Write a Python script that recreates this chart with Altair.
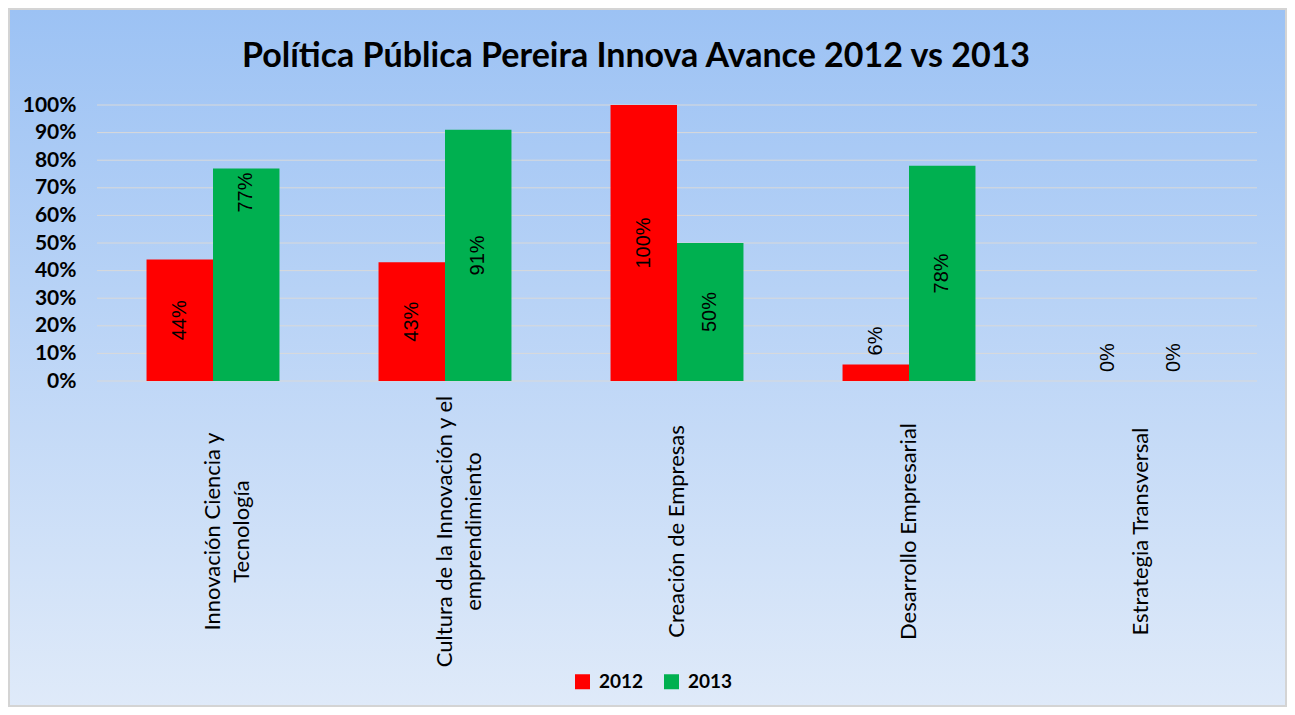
import altair as alt
import pandas as pd

# ---------------- data ----------------
categories = [
    "Innovación Ciencia y Tecnología",
    "Cultura de la Innovación y el emprendimiento",
    "Creación de Empresas",
    "Desarrollo Empresarial",
    "Estrategia Transversal",
]
years = ["2012", "2013"]
values_2012 = [0.44, 0.43, 1.00, 0.06, 0.00]
values_2013 = [0.77, 0.91, 0.50, 0.78, 0.00]
label_lines = {
    "Innovación Ciencia y Tecnología": ["Innovación Ciencia y", "Tecnología"],
    "Cultura de la Innovación y el emprendimiento": ["Cultura de la Innovación y el", "emprendimiento"],
    "Creación de Empresas": ["Creación de Empresas"],
    "Desarrollo Empresarial": ["Desarrollo Empresarial"],
    "Estrategia Transversal": ["Estrategia Transversal"],
}
y_ticks = [0.0, 0.1, 0.2, 0.3, 0.4, 0.5, 0.6, 0.7, 0.8, 0.9, 1.0]
title_text = "Política Pública Pereira Innova Avance 2012 vs 2013"

# ---------------- styling ----------------
bar_colors = ["#FF0000", "#00B050"]
inside_end_labels = [("Innovación Ciencia y Tecnología", "2013")]
outside_threshold = 0.1
W, H = 1160, 276
PAD = {"left": 89, "top": 97, "right": 30, "bottom": 326}

rows = []
for c, a, b in zip(categories, values_2012, values_2013):
    for yr, v in (("2012", a), ("2013", b)):
        if v < outside_threshold:
            pos = "out"
        elif (c, yr) in inside_end_labels:
            pos = "end"
        else:
            pos = "mid"
        rows.append({"category": c, "year": yr, "value": v, "pos": pos})
df = pd.DataFrame(rows)

label_expr = " : ".join(
    "datum.value == '%s' ? [%s]" % (k, ", ".join("'%s'" % s for s in v))
    for k, v in label_lines.items()
) + " : datum.label"

x_axis = alt.Axis(
    title=None, domain=False, ticks=False, labelAngle=-90, labelAlign="center",
    labelBaseline="middle", labelPadding=150, labelLineHeight=29, labelFont="Lato",
    labelFontSize=22, labelColor="black", labelLimit=500, labelExpr=label_expr,
    grid=False, zindex=1,
)
y_axis = alt.Axis(
    title=None, domain=False, ticks=False, grid=False, values=y_ticks, format=".0%",
    labelFont="Lato", labelFontSize=21, labelFontWeight="bold", labelColor="black",
    labelPadding=21, zindex=1,
)
x_scale = alt.Scale(paddingInner=0.427, paddingOuter=0.2135)
y_scale = alt.Scale(domain=[0, 1])
x_enc = alt.X("category:N", sort=categories, scale=x_scale, axis=x_axis)
xo_enc = alt.XOffset("year:N", sort=years, scale=alt.Scale(paddingInner=0, paddingOuter=0))

bg = alt.Chart(alt.Data(values=[{}])).mark_rect(
    color=alt.Gradient(
        gradient="linear",
        stops=[alt.GradientStop(color="#9CC2F4", offset=0),
               alt.GradientStop(color="#DFEAF9", offset=1)],
        x1=0, x2=0, y1=0, y2=1,
    ),
    stroke="#D4D4D4", strokeWidth=2,
).encode(
    x=alt.value(-PAD["left"] + 1), x2=alt.value(W + PAD["right"] - 1),
    y=alt.value(-PAD["top"] + 1), y2=alt.value(H + PAD["bottom"] - 1),
)

grid = alt.Chart(pd.DataFrame({"t": y_ticks})).mark_rule(
    color="#D9D9D9", strokeWidth=1
).encode(
    y=alt.Y("t:Q", scale=y_scale, axis=y_axis),
    x=alt.value(0), x2=alt.value(W),
)

bars = alt.Chart(df).mark_bar().encode(
    x=x_enc, xOffset=xo_enc,
    y=alt.Y("value:Q", scale=y_scale, axis=y_axis),
    color=alt.Color(
        "year:N", sort=years,
        scale=alt.Scale(domain=years, range=bar_colors),
        legend=alt.Legend(
            title=None, orient="none", legendX=476, legendY=567, direction="horizontal",
            symbolType="square", symbolSize=225, symbolStrokeWidth=0,
            labelFont="Lato", labelFontSize=19, labelFontWeight="bold", labelColor="black",
            columnPadding=18, labelOffset=7,
        ),
    ),
)

text_base = alt.Chart(df).transform_calculate(
    label_y="datum.pos == 'mid' ? datum.value / 2 : datum.value"
).encode(
    x=x_enc, xOffset=xo_enc,
    y=alt.Y("label_y:Q", scale=y_scale, axis=y_axis),
    text=alt.Text("value:Q", format=".0%"),
)
tfont = dict(font="Liberation Sans", fontSize=20, color="black", angle=270, baseline="middle")
t_mid = text_base.transform_filter("datum.pos == 'mid'").mark_text(align="center", **tfont)
t_end = text_base.transform_filter("datum.pos == 'end'").mark_text(align="right", dx=-4, **tfont)
t_out = text_base.transform_filter("datum.pos == 'out'").mark_text(align="left", dx=9, **tfont)

chart = alt.layer(bg, grid, bars, t_mid, t_end, t_out).properties(
    width=W, height=H, padding=PAD,
    autosize=alt.AutoSizeParams(type="none"),
    title=alt.TitleParams(
        title_text, font="Lato", fontSize=34, fontWeight="bold", color="black",
        anchor="middle", frame="group", dx=-41, offset=-100, baseline="bottom", zindex=1,
    ),
).configure_view(stroke=None).configure(background="white")

chart.save("out.html", embed_options={"renderer": "svg", "actions": False})
